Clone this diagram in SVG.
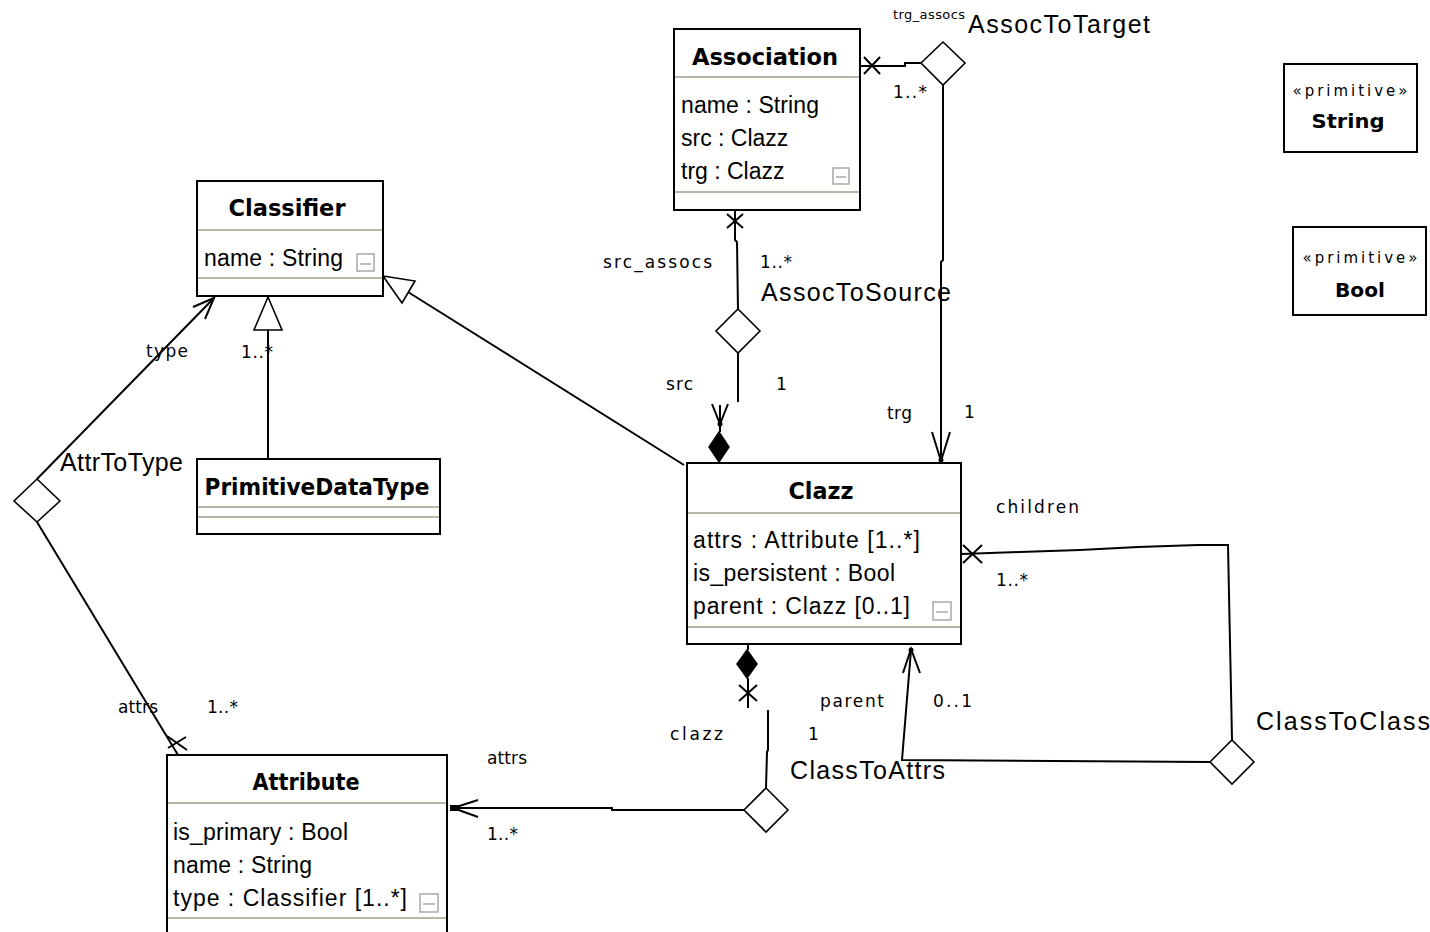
<svg xmlns="http://www.w3.org/2000/svg" width="1430" height="932" viewBox="0 0 1430 932">
<style>
.box{fill:#fff;stroke:#000;stroke-width:2}
.sep{stroke:#b9b6a8;stroke-width:2}
.title{font-family:"DejaVu Sans",sans-serif;font-weight:bold;font-size:23px;fill:#000}
.ptitle{font-family:"DejaVu Sans",sans-serif;font-weight:bold;font-size:20px;fill:#000}
.stereo{font-family:"DejaVu Sans",sans-serif;font-size:15px;fill:#000}
.attr{font-family:"Liberation Sans",Arial,sans-serif;font-size:23px;fill:#000}
.lbl{font-family:"DejaVu Sans",sans-serif;font-size:17px;fill:#000}
.small{font-family:"DejaVu Sans",sans-serif;font-size:13px;fill:#000}
.aname{font-family:"Liberation Sans",Arial,sans-serif;font-size:25px;fill:#000}
.mini{fill:#fff;stroke:#a8a8a8;stroke-width:1.5}
.minil{stroke:#a8a8a8;stroke-width:1.5}
.ln{fill:none;stroke:#000;stroke-width:2}
.dia{fill:#fff;stroke:#000;stroke-width:1.6}
.fdia{fill:#000;stroke:#000;stroke-width:1.5}
.tri{fill:#fff;stroke:#000;stroke-width:1.6}
</style>

<g id="connectors">
  <!-- AssocToTarget -->
  <polygon class="dia" points="943,42 965,63 943,85 921,63"/>
  <polyline class="ln" points="921,63 905,63 905,66 861,66"/>
  <line class="ln" x1="864" y1="57" x2="880" y2="74"/>
  <line class="ln" x1="864" y1="74" x2="880" y2="57"/>
  <polyline class="ln" points="943,85 943,260 941,262 941,461"/>
  <polyline class="ln" points="932,432 941,461 950,432"/>
  <circle cx="941" cy="460" r="2.5"/>

  <!-- AssocToSource -->
  <polyline class="ln" points="735,210 735,240 737,242 738,309"/>
  <line class="ln" x1="727" y1="214" x2="743" y2="228"/>
  <line class="ln" x1="727" y1="228" x2="743" y2="214"/>
  <polygon class="dia" points="738,309 760,331 738,353 716,331"/>
  <line class="ln" x1="738" y1="353" x2="738" y2="402"/>
  <line class="ln" x1="720" y1="405" x2="720" y2="432"/>
  <polyline class="ln" points="712,404 720,424 728,404"/>
  <circle cx="720" cy="424" r="2.5"/>
  <polygon class="fdia" points="719,432 729,447 719,462 709,447"/>

  <!-- Classifier generalizations -->
  <line class="ln" x1="408" y1="292" x2="684" y2="465"/>
  <polygon class="tri" points="383,276 415,281 402,303"/>
  <line class="ln" x1="268" y1="330" x2="268" y2="459"/>
  <polygon class="tri" points="268,297 282,330 254,330"/>

  <!-- AttrToType -->
  <polygon class="dia" points="37,479 60,501 37,522 14,501"/>
  <line class="ln" x1="37" y1="479" x2="214" y2="298" stroke-width="1.6"/>
  <polyline class="ln" points="193,307 214,298 205,319" stroke-width="1.6"/>
  <line class="ln" x1="37" y1="522" x2="178" y2="755" stroke-width="1.6"/>
  <line class="ln" x1="167" y1="736" x2="187" y2="750" stroke-width="1.6"/>
  <line class="ln" x1="168" y1="748" x2="186" y2="737" stroke-width="1.6"/>

  <!-- ClassToAttrs -->
  <line class="ln" x1="748" y1="644" x2="748" y2="650"/>
  <polygon class="fdia" points="747,650 757,664 747,678 737,664"/>
  <line class="ln" x1="748" y1="678" x2="748" y2="708"/>
  <line class="ln" x1="739" y1="685" x2="757" y2="701"/>
  <line class="ln" x1="739" y1="701" x2="757" y2="685"/>
  <polyline class="ln" points="768,710 768,750 767,752 766,788"/>
  <polygon class="dia" points="766,788 788,810 766,832 744,810"/>
  <polyline class="ln" points="744,810 612,810 612,808 453,808"/>
  <polyline class="ln" points="478,800 453,808 478,817"/>
  <rect x="450" y="805" width="10" height="6" fill="#000"/>

  <!-- ClassToClass -->
  <polygon class="dia" points="1232,740 1254,762 1232,784 1210,762"/>
  <polyline class="ln" points="1232,740 1231,690 1229,595 1228,545 1198,545 1138,547 1080,550 1020,552 962,554"/>
  <line class="ln" x1="963" y1="545" x2="982" y2="563"/>
  <line class="ln" x1="963" y1="563" x2="982" y2="545"/>
  <polyline class="ln" points="1210,762 902,760 911,650"/>
  <polyline class="ln" points="903,673 911,649 920,673"/>
  <circle cx="911" cy="650" r="2.5"/>
</g>

<g id="Association">
  <rect class="box" x="674" y="29" width="186" height="181"/>
  <line class="sep" x1="675" y1="77" x2="859" y2="77"/>
  <line class="sep" x1="675" y1="192" x2="859" y2="192"/>
  <text class="title" x="765" y="65" text-anchor="middle" textLength="146" lengthAdjust="spacingAndGlyphs">Association</text>
  <text class="attr" x="681" y="113" textLength="138">name : String</text>
  <text class="attr" x="681" y="146">src : Clazz</text>
  <text class="attr" x="681" y="179">trg : Clazz</text>
  <rect class="mini" x="833" y="168" width="16" height="16"/>
  <line class="minil" x1="836" y1="177" x2="846" y2="177"/>
</g>

<g id="Classifier">
  <rect class="box" x="197" y="181" width="186" height="115"/>
  <line class="sep" x1="198" y1="230" x2="382" y2="230"/>
  <line class="sep" x1="198" y1="278" x2="382" y2="278"/>
  <text class="title" x="287" y="216" text-anchor="middle" textLength="117" lengthAdjust="spacingAndGlyphs">Classifier</text>
  <text class="attr" x="204" y="266" textLength="139">name : String</text>
  <rect class="mini" x="357" y="254" width="17" height="17"/>
  <line class="minil" x1="360" y1="264" x2="371" y2="264"/>
</g>

<g id="PrimitiveDataType">
  <rect class="box" x="197" y="459" width="243" height="75"/>
  <line class="sep" x1="198" y1="507" x2="439" y2="507"/>
  <line class="sep" x1="198" y1="517" x2="439" y2="517"/>
  <text class="title" x="317" y="495" text-anchor="middle" textLength="225" lengthAdjust="spacingAndGlyphs">PrimitiveDataType</text>
</g>

<g id="Clazz">
  <rect class="box" x="687" y="463" width="274" height="181"/>
  <line class="sep" x1="688" y1="513" x2="960" y2="513"/>
  <line class="sep" x1="688" y1="627" x2="960" y2="627"/>
  <text class="title" x="821" y="499" text-anchor="middle" textLength="65" lengthAdjust="spacingAndGlyphs">Clazz</text>
  <text class="attr" x="693" y="548" textLength="227">attrs : Attribute [1..*]</text>
  <text class="attr" x="693" y="581" textLength="202">is_persistent : Bool</text>
  <text class="attr" x="693" y="614" textLength="217">parent : Clazz [0..1]</text>
  <rect class="mini" x="933" y="602" width="18" height="18"/>
  <line class="minil" x1="936" y1="612" x2="948" y2="612"/>
</g>

<g id="Attribute">
  <rect class="box" x="167" y="755" width="280" height="200"/>
  <line class="sep" x1="168" y1="803" x2="446" y2="803"/>
  <line class="sep" x1="168" y1="918" x2="446" y2="918"/>
  <text class="title" x="306" y="790" text-anchor="middle" textLength="107" lengthAdjust="spacingAndGlyphs">Attribute</text>
  <text class="attr" x="173" y="840" textLength="175">is_primary : Bool</text>
  <text class="attr" x="173" y="873" textLength="139">name : String</text>
  <text class="attr" x="173" y="906" textLength="234">type : Classifier [1..*]</text>
  <rect class="mini" x="420" y="894" width="18" height="18"/>
  <line class="minil" x1="423" y1="904" x2="435" y2="904"/>
</g>

<g id="String">
  <rect class="box" x="1284" y="64" width="133" height="88"/>
  <text class="stereo" x="1350" y="96" text-anchor="middle" textLength="115">«primitive»</text>
  <text class="ptitle" x="1348" y="128" text-anchor="middle" textLength="73" lengthAdjust="spacingAndGlyphs">String</text>
</g>

<g id="Bool">
  <rect class="box" x="1293" y="227" width="133" height="88"/>
  <text class="stereo" x="1360" y="263" text-anchor="middle" textLength="115">«primitive»</text>
  <text class="ptitle" x="1360" y="297" text-anchor="middle" textLength="50" lengthAdjust="spacingAndGlyphs">Bool</text>
</g>

<g id="labels">
  <text class="small" x="893" y="19" textLength="72">trg_assocs</text>
  <text class="aname" x="968" y="33" textLength="182">AssocToTarget</text>
  <text class="lbl" x="893" y="98" textLength="34">1..*</text>
  <text class="lbl" x="603" y="268" textLength="109">src_assocs</text>
  <text class="lbl" x="760" y="268" textLength="32">1..*</text>
  <text class="aname" x="761" y="301" textLength="190">AssocToSource</text>
  <text class="lbl" x="666" y="390" textLength="27">src</text>
  <text class="lbl" x="776" y="390">1</text>
  <text class="lbl" x="887" y="419" textLength="25">trg</text>
  <text class="lbl" x="964" y="418">1</text>
  <text class="lbl" x="996" y="513" textLength="83">children</text>
  <text class="lbl" x="996" y="586" textLength="32">1..*</text>
  <text class="lbl" x="820" y="707" textLength="64">parent</text>
  <text class="lbl" x="933" y="707" textLength="39">0..1</text>
  <text class="lbl" x="670" y="740" textLength="53">clazz</text>
  <text class="lbl" x="808" y="740">1</text>
  <text class="aname" x="790" y="779" textLength="155">ClassToAttrs</text>
  <text class="aname" x="1256" y="730" textLength="174">ClassToClass</text>
  <text class="lbl" x="487" y="764" textLength="40">attrs</text>
  <text class="lbl" x="487" y="840" textLength="31">1..*</text>
  <text class="lbl" x="118" y="713" textLength="40">attrs</text>
  <text class="lbl" x="207" y="713" textLength="31">1..*</text>
  <text class="lbl" x="146" y="357" textLength="42">type</text>
  <text class="lbl" x="241" y="358" textLength="32">1..*</text>
  <text class="aname" x="60" y="471" textLength="123">AttrToType</text>
</g>
</svg>
